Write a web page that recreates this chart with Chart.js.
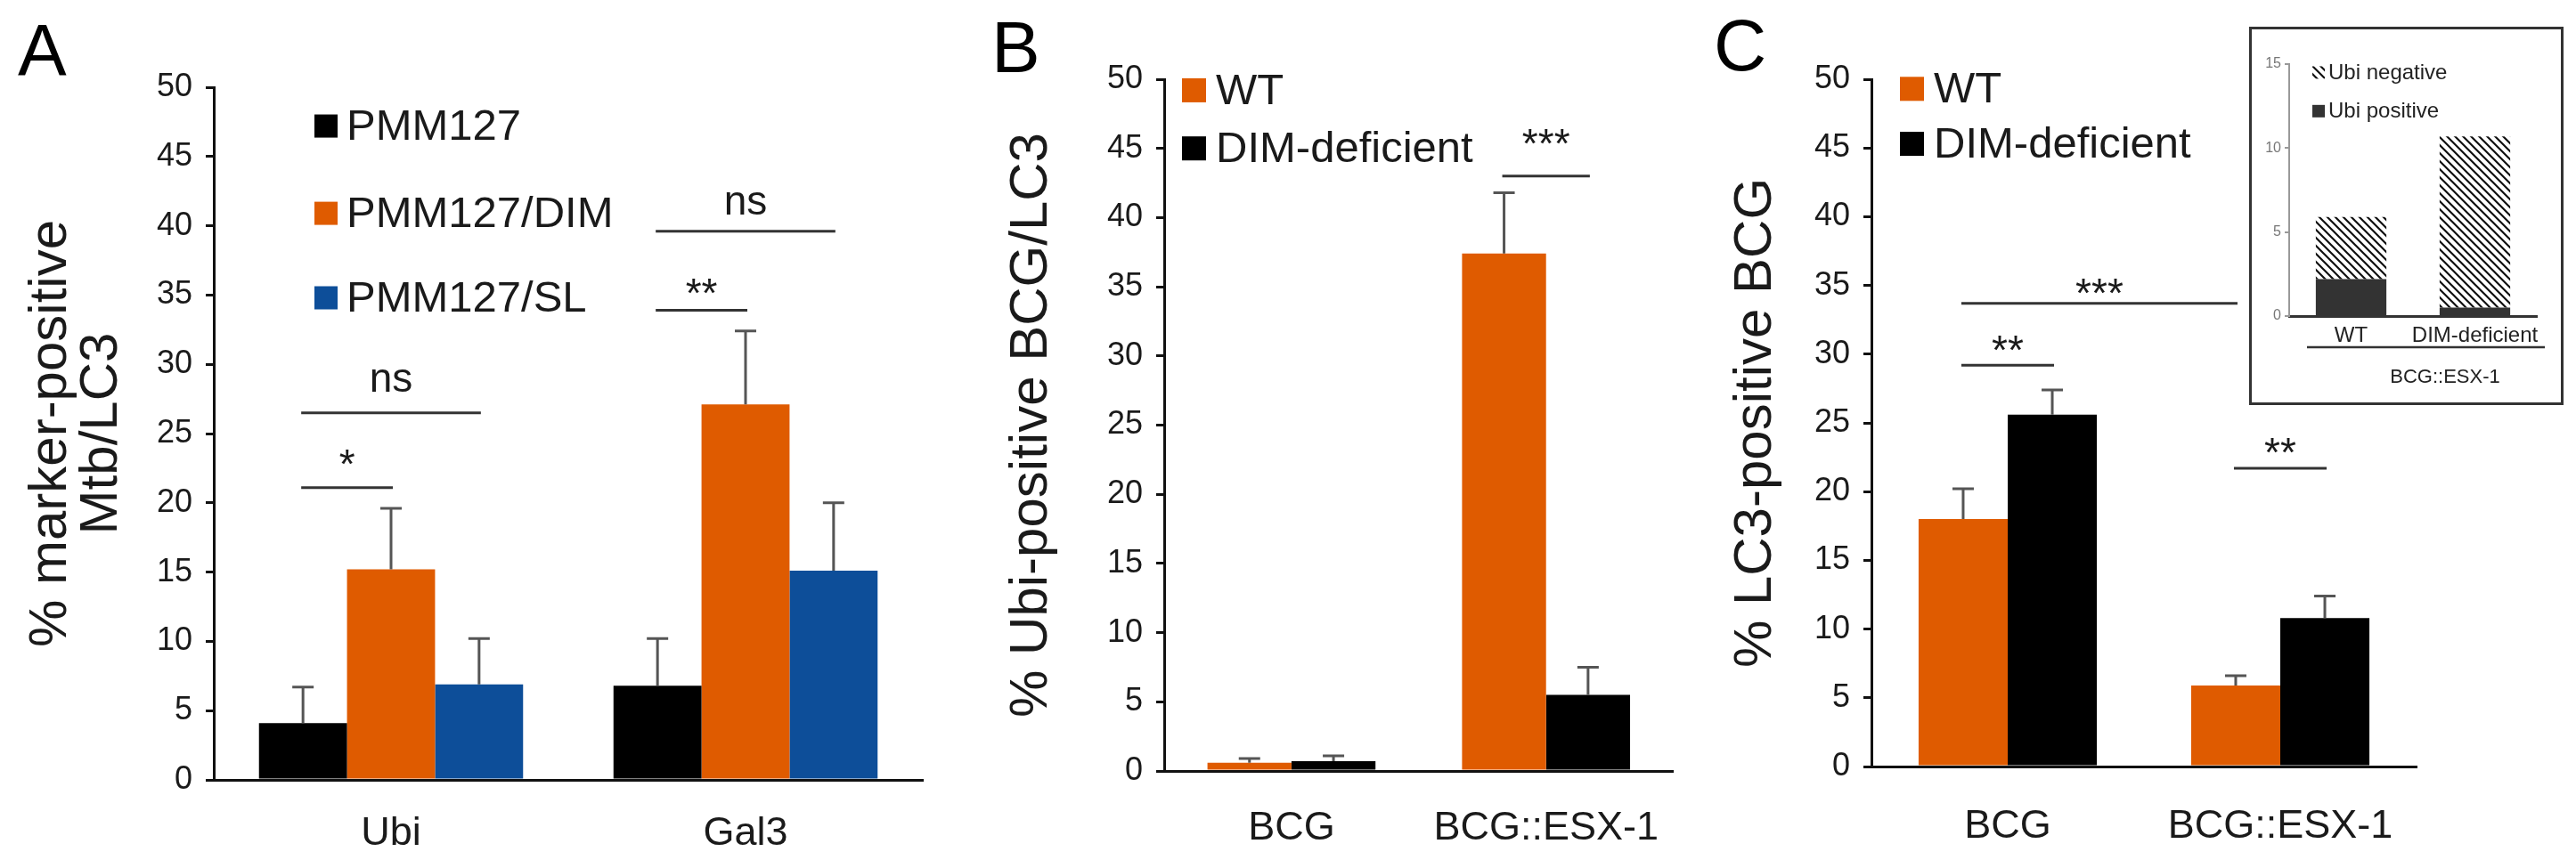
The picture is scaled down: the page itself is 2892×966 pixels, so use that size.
<!DOCTYPE html>
<html>
<head>
<meta charset="utf-8">
<script src="https://cdn.jsdelivr.net/npm/chart.js@4.4.1/dist/chart.umd.min.js"></script>
<style>
  html, body { margin: 0; padding: 0; background: #fff; }
  #wrap { position: relative; width: 2892px; height: 966px; overflow: hidden; background: #fff; }
  .panel { position: absolute; top: 0; }
  #inset { position: absolute; left: 2525px; top: 30px; width: 353px; height: 425px;
           border: 3px solid #333; box-sizing: border-box; background: #fff; }
</style>
</head>
<body>
<div id="wrap">
  <canvas id="chartA" class="panel" style="left:0px" width="1100" height="966"></canvas>
  <canvas id="chartB" class="panel" style="left:1100px" width="800" height="966"></canvas>
  <canvas id="chartC" class="panel" style="left:1900px" width="992" height="966"></canvas>
  <div id="inset"><canvas id="chartInset" width="347" height="419"></canvas></div>
</div>
<script>
// ---- data ----
const yTicks = [0, 5, 10, 15, 20, 25, 30, 35, 40, 45, 50];

// panel A
const markersA = ["Ubi", "Gal3"];
const strainsA = ["PMM127", "PMM127/DIM", "PMM127/SL"];
const pmm127 = [4.1, 6.8];
const pmm127Dim = [15.2, 27.1];
const pmm127Sl = [6.9, 15.1];
const pmm127Err = [2.6, 3.4];
const pmm127DimErr = [4.4, 5.3];
const pmm127SlErr = [3.3, 4.9];
// [category, dataset] -> [category, dataset], line value, label, label value
const sigA = [
  [0, 0, 0, 2, 26.5, "ns", 28.8],
  [0, 0, 0, 1, 21.1, "*", 23.5],
  [1, 0, 1, 2, 39.6, "ns", 41.6],
  [1, 0, 1, 1, 33.9, "**", 35.8],
];

// panel B
const strainsB = ["BCG", "BCG::ESX-1"];
const wtB = [0.6, 37.4];
const wtBErr = [0.3, 4.4];
const dimB = [0.7, 5.5];
const dimBErr = [0.4, 2.0];
const sigB = [
  [1, 0, 1, 1, 43.0, "***", 46.0],
];

// panel C
const strainsC = ["BCG", "BCG::ESX-1"];
const wtC = [18.0, 5.9];
const wtCErr = [2.2, 0.7];
const dimC = [25.6, 10.8];
const dimCErr = [1.8, 1.6];
const sigC = [
  [0, 0, 0, 1, 29.2, "**", 31.0],
  [0, 0, 1, 0, 33.7, "***", 35.1],
  [1, 0, 1, 1, 21.7, "**", 23.5],
];

// inset of C
const insetStrains = ["WT", "DIM-deficient"];
const insetGroup = "BCG::ESX-1";
const ubiPositive = [2.2, 0.5];
const ubiNegative = [3.7, 10.2];
const insetTicks = [0, 5, 10, 15];

// ---- look ----
const FONT = "'Liberation Sans', Arial, Helvetica, sans-serif";
const ORANGE = "#DF5B00";
const BLACK = "#000000";
const BLUE = "#0D4E99";
const TEXT = "#1a1a1a";

Chart.defaults.font.family = FONT;
Chart.defaults.color = TEXT;

const hatch = (() => {
  const c = document.createElement("canvas");
  c.width = 9; c.height = 9;
  const g = c.getContext("2d");
  g.strokeStyle = "#111";
  g.lineWidth = 2.2;
  g.beginPath();
  g.moveTo(-1, -1); g.lineTo(10, 10);
  g.moveTo(-1, 8); g.lineTo(1, 10);
  g.moveTo(8, -1); g.lineTo(10, 1);
  g.stroke();
  return g.createPattern(c, "repeat");
})();

function glyphShift(label, size) {
  return label.indexOf("*") >= 0 ? 0.57 * size : 0.27 * size;
}

const decor = {
  id: "decor",
  afterDatasetsDraw(chart, args, o) {
    const { ctx } = chart;
    const y = chart.scales.y;
    ctx.save();

    // error bars
    (o.errors || []).forEach((errs, i) => {
      const meta = chart.getDatasetMeta(i);
      const vals = chart.data.datasets[i].data;
      meta.data.forEach((bar, j) => {
        const top = y.getPixelForValue(vals[j] + errs[j]);
        ctx.strokeStyle = "#555";
        ctx.lineWidth = 3;
        ctx.beginPath();
        ctx.moveTo(bar.x, bar.y);
        ctx.lineTo(bar.x, top);
        ctx.moveTo(bar.x - 12, top);
        ctx.lineTo(bar.x + 12, top);
        ctx.stroke();
      });
    });

    // significance lines
    (o.sig || []).forEach(([c1, d1, c2, d2, v, label, lv]) => {
      const x1 = chart.getDatasetMeta(d1).data[c1].x;
      const x2 = chart.getDatasetMeta(d2).data[c2].x;
      const py = y.getPixelForValue(v);
      ctx.strokeStyle = "#333";
      ctx.lineWidth = 3;
      ctx.beginPath();
      ctx.moveTo(x1 - 2, py);
      ctx.lineTo(x2 + 2, py);
      ctx.stroke();
      const size = 46;
      ctx.font = size + "px " + FONT;
      ctx.fillStyle = TEXT;
      ctx.textAlign = "center";
      ctx.textBaseline = "alphabetic";
      ctx.fillText(label, (x1 + x2) / 2, y.getPixelForValue(lv) + glyphShift(label, size));
    });

    // legend
    if (o.legend) {
      const L = o.legend;
      const x0 = chart.chartArea.left + L.x;
      chart.data.datasets.forEach((ds, i) => {
        const cy = y.getPixelForValue(L.ys[i]);
        ctx.fillStyle = ds.backgroundColor;
        ctx.fillRect(x0, cy - L.box / 2, L.box, L.box);
        ctx.fillStyle = TEXT;
        ctx.font = L.size + "px " + FONT;
        ctx.textAlign = "left";
        ctx.textBaseline = "middle";
        ctx.fillText(ds.label, x0 + L.box + L.gap, cy + 2);
      });
    }

    // panel letter
    if (o.letter) {
      ctx.font = "82px " + FONT;
      ctx.fillStyle = "#000";
      ctx.textAlign = "left";
      ctx.textBaseline = "alphabetic";
      ctx.fillText(o.letter[0], o.letter[1], o.letter[2]);
    }
    ctx.restore();
  },
};

function panel(id, cats, datasets, box, decorOpts, title, titlePad, catPct) {
  const el = document.getElementById(id);
  return new Chart(el, {
    type: "bar",
    data: { labels: cats, datasets: datasets },
    options: {
      responsive: false,
      animation: false,
      devicePixelRatio: 1,
      layout: { padding: { left: 0, top: box.top, right: el.width - box.right, bottom: 0 } },
      datasets: { bar: { categoryPercentage: catPct, barPercentage: 1 } },
      plugins: { legend: { display: false }, tooltip: { enabled: false }, decor: decorOpts },
      scales: {
        x: {
          grid: { display: false, drawTicks: false },
          border: { display: true, color: "#111", width: 3 },
          ticks: { font: { size: 45 }, color: TEXT, padding: box.labelPad, maxRotation: 0, autoSkip: false },
          afterFit(s) { s.height = el.height - box.bottom; },
        },
        y: {
          min: 0, max: 50,
          afterBuildTicks(s) { s.ticks = yTicks.map(v => ({ value: v })); },
          grid: { drawOnChartArea: false, drawTicks: true, tickLength: 9, color: "#111", lineWidth: 3 },
          border: { display: true, color: "#111", width: 3 },
          ticks: { font: { size: 36 }, color: TEXT, padding: 15 },
          title: { display: true, text: title, font: { size: 60, lineHeight: 0.95 }, color: TEXT,
                   padding: { top: titlePad, bottom: 0 } },
          afterFit(s) { s.width = box.left; },
        },
      },
    },
    plugins: [decor],
  });
}

panel("chartA", markersA, [
  { label: strainsA[0], data: pmm127, backgroundColor: BLACK },
  { label: strainsA[1], data: pmm127Dim, backgroundColor: ORANGE },
  { label: strainsA[2], data: pmm127Sl, backgroundColor: BLUE },
], { left: 240, right: 1036, top: 98, bottom: 876, labelPad: 34 }, {
  errors: [pmm127Err, pmm127DimErr, pmm127SlErr],
  sig: sigA,
  legend: { x: 113, ys: [47.2, 40.9, 34.8], box: 26, gap: 10, size: 49 },
  letter: ["A", 20, 84],
}, ["% marker-positive", "Mtb/LC3"], 29, 0.745);

panel("chartB", strainsB, [
  { label: "WT", data: wtB, backgroundColor: ORANGE },
  { label: "DIM-deficient", data: dimB, backgroundColor: BLACK },
], { left: 207, right: 803, top: 89, bottom: 866, labelPad: 38 }, {
  errors: [wtBErr, dimBErr],
  sig: sigB,
  legend: { x: 20, ys: [49.2, 45.0], box: 27, gap: 11, size: 49 },
  letter: ["B", 13, 81],
}, "% Ubi-positive BCG/LC3", 30, 0.66);

panel("chartC", strainsC, [
  { label: "WT", data: wtC, backgroundColor: ORANGE },
  { label: "DIM-deficient", data: dimC, backgroundColor: BLACK },
], { left: 201, right: 813, top: 89, bottom: 861, labelPad: 41 }, {
  errors: [wtCErr, dimCErr],
  sig: sigC,
  legend: { x: 32, ys: [49.3, 45.3], box: 27, gap: 11, size: 49 },
  letter: ["C", 24, 79],
}, "% LC3-positive BCG", 43, 0.654);

// ---- inset ----
const insetDecor = {
  id: "insetDecor",
  afterDraw(chart) {
    const { ctx, chartArea } = chart;
    const y = chart.scales.y;
    ctx.save();
    // legend
    const items = [[hatch, "Ubi negative", 14.5], ["#333", "Ubi positive", 12.2]];
    items.forEach(([fill, text, v]) => {
      const cy = y.getPixelForValue(v);
      ctx.fillStyle = fill;
      ctx.fillRect(chartArea.left + 26, cy - 7, 14, 14);
      ctx.fillStyle = "#222";
      ctx.font = "24px " + FONT;
      ctx.textAlign = "left";
      ctx.textBaseline = "middle";
      ctx.fillText(text, chartArea.left + 44, cy + 1);
    });
    // group bracket under the strain labels
    const lineY = chartArea.bottom + 35;
    ctx.strokeStyle = "#333";
    ctx.lineWidth = 2.5;
    ctx.beginPath();
    ctx.moveTo(chartArea.left + 20, lineY);
    ctx.lineTo(chartArea.right + 9, lineY);
    ctx.stroke();
    ctx.fillStyle = "#222";
    ctx.font = "22px " + FONT;
    ctx.textAlign = "center";
    ctx.textBaseline = "alphabetic";
    ctx.fillText(insetGroup, (chartArea.left + chartArea.right) / 2 + 36, lineY + 40);
    ctx.restore();
  },
};

new Chart(document.getElementById("chartInset"), {
  type: "bar",
  data: {
    labels: insetStrains,
    datasets: [
      { label: "Ubi positive", data: ubiPositive, backgroundColor: "#333" },
      { label: "Ubi negative", data: ubiNegative, backgroundColor: hatch },
    ],
  },
  options: {
    responsive: false,
    animation: false,
    devicePixelRatio: 1,
    layout: { padding: { left: 0, top: 39, right: 27, bottom: 0 } },
    datasets: { bar: { categoryPercentage: 0.57, barPercentage: 1 } },
    plugins: { legend: { display: false }, tooltip: { enabled: false } },
    scales: {
      x: {
        stacked: true,
        grid: { display: false, drawTicks: false },
        border: { display: true, color: "#333", width: 3 },
        ticks: { font: { size: 24 }, color: "#222", padding: 8, maxRotation: 0, minRotation: 0, autoSkip: false },
        afterFit(s) { s.height = 97; },
      },
      y: {
        stacked: true,
        min: 0, max: 15,
        afterBuildTicks(s) { s.ticks = insetTicks.map(v => ({ value: v })); },
        grid: { drawOnChartArea: false, drawTicks: true, tickLength: 5, color: "#999", lineWidth: 2 },
        border: { display: true, color: "#999", width: 2 },
        ticks: { font: { size: 16 }, color: "#777", padding: 4 },
        afterFit(s) { s.width = 42; },
      },
    },
  },
  plugins: [insetDecor],
});
</script>
</body>
</html>
